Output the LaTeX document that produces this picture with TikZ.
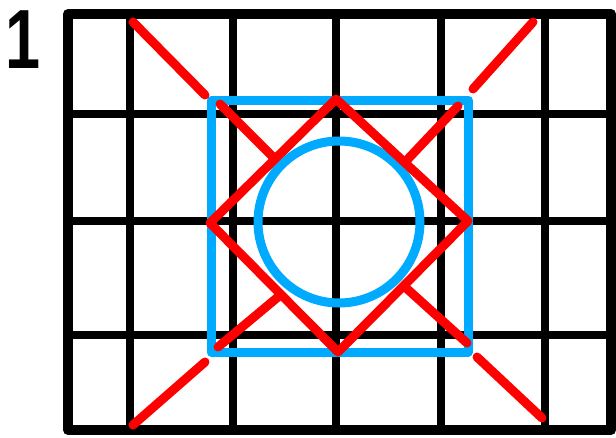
\documentclass[tikz,border=0pt]{standalone}
\usepackage{fontspec}
\newfontfamily\numfont{Liberation Sans}
\definecolor{skyblue}{RGB}{0,170,255}
\definecolor{pureRed}{RGB}{255,0,0}
\begin{document}
\begin{tikzpicture}[x=1pt,y=-1pt,
  gridline/.style={line width=8pt,black},
  frameline/.style={line width=10pt,black,line join=round},
  blueline/.style={line width=9pt,skyblue,line join=round},
  redline/.style={line width=9pt,pureRed,line cap=round,line join=round}]
\useasboundingbox (0,0) rectangle (616,437);
% number label
\node[inner sep=0pt,anchor=base west,xscale=0.75,text height=60pt,text depth=0pt] (num) at (5,68) {\numfont\bfseries\fontsize{84}{84}\selectfont 1};
% grid
\foreach \x in {130,233,336,441,545} \draw[gridline] (\x,14) -- (\x,430);
\foreach \y in {114,221,335} \draw[gridline] (68,\y) -- (611,\y);
\draw[frameline] (68,14) rectangle (611,430);
% blue square and circle
\draw[blueline] (211,100) rectangle (468,352);
\draw[blueline] (339,222) circle (81);
% red diamond
\draw[redline] (336,99) -- (468,221) -- (338,352) -- (210,223) -- cycle;
% red diagonals
\draw[redline] (133,22) -- (205,95);
\draw[redline] (220,104) -- (273,157);
\draw[redline] (405,287) -- (467,343);
\draw[redline] (477,357) -- (542,418);
\draw[redline] (533,22) -- (473,89);
\draw[redline] (458,106) -- (407,160);
\draw[redline] (278,297) -- (218,347);
\draw[redline] (205,362) -- (133,425);
\end{tikzpicture}
\end{document}
